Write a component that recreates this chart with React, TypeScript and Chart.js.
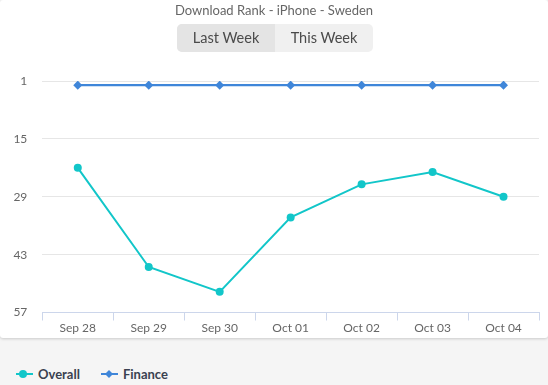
import React, { useEffect, useRef } from 'react';
import { Chart, registerables } from 'chart.js';

Chart.register(...registerables);

const chartTitle = 'Download Rank - iPhone - Sweden';
const periodButtons = ['Last Week', 'This Week'];
const categories = ['Sep 28', 'Sep 29', 'Sep 30', 'Oct 01', 'Oct 02', 'Oct 03', 'Oct 04'];
const overallRanks = [22, 46, 52, 34, 26, 23, 29];
const financeRanks = [2, 2, 2, 2, 2, 2, 2];
const yTicks = [1, 15, 29, 43, 57];
const seriesNames = ['Overall', 'Finance'];
const seriesColors = ['#12c6c9', '#3f86d9'];
const seriesPointStyles = ['circle', 'rectRot'];

const FONT = 'Lato, "Open Sans", sans-serif';

function LegendMarker({ color, style }: { color: string; style: string }) {
  return (
    <svg width={17} height={8} style={{ display: 'block' }}>
      <line x1={0} y1={4} x2={17} y2={4} stroke={color} strokeWidth={2} />
      {style === 'circle' ? (
        <circle cx={7} cy={4} r={4} fill={color} />
      ) : (
        <polygon points="8,0 12,4 8,8 4,4" fill={color} />
      )}
    </svg>
  );
}

export default function App() {
  const canvasRef = useRef<HTMLCanvasElement | null>(null);

  useEffect(() => {
    if (!canvasRef.current) return;
    const chart = new Chart(canvasRef.current, {
      type: 'line',
      data: {
        labels: categories,
        datasets: [
          {
            label: seriesNames[0],
            data: overallRanks,
            borderColor: seriesColors[0],
            backgroundColor: seriesColors[0],
            borderWidth: 2,
            pointStyle: seriesPointStyles[0] as any,
            pointRadius: 4,
            pointBorderWidth: 0,
            tension: 0,
          },
          {
            label: seriesNames[1],
            data: financeRanks,
            borderColor: seriesColors[1],
            backgroundColor: seriesColors[1],
            borderWidth: 2.3,
            pointStyle: seriesPointStyles[1] as any,
            pointRadius: 4.5,
            pointBorderWidth: 0,
            tension: 0,
          },
        ],
      },
      options: {
        responsive: false,
        animation: false,
        layout: { padding: { top: 81, left: 0, right: 9, bottom: 0 } },
        plugins: {
          legend: { display: false },
          title: { display: false },
          tooltip: { enabled: false },
        },
        scales: {
          x: {
            type: 'category',
            offset: true,
            grid: {
              offset: true,
              drawOnChartArea: false,
              drawTicks: true,
              tickLength: 8,
              color: '#ccd6eb',
              lineWidth: 1,
            },
            border: { display: true, color: '#ccd6eb', width: 1 },
            ticks: {
              padding: 0,
              color: '#666666',
              font: { family: FONT, size: 12 },
              maxRotation: 0,
              autoSkip: false,
            },
            afterFit: (scale: any) => {
              scale.height = 25.5;
            },
          },
          y: {
            type: 'linear',
            reverse: true,
            min: 1,
            max: 57,
            afterBuildTicks: (scale: any) => {
              scale.ticks = yTicks.map((v) => ({ value: v }));
            },
            afterFit: (scale: any) => {
              scale.width = 42.3;
            },
            grid: {
              drawTicks: false,
              color: (ctx: any) => (ctx.tick && ctx.tick.value === 57 ? 'rgba(0,0,0,0)' : '#e6e6e6'),
              lineWidth: 1,
            },
            border: { display: false },
            ticks: {
              padding: 15,
              color: '#666666',
              font: { family: FONT, size: 12 },
            },
          },
        },
      },
    });
    return () => chart.destroy();
  }, []);

  return (
    <div
      style={{
        position: 'absolute',
        left: 0,
        top: 0,
        width: 548,
        height: 385,
        background: '#f5f5f5',
        overflow: 'hidden',
        fontFamily: FONT,
      }}
    >
      <div
        style={{
          position: 'absolute',
          left: 0,
          top: 0,
          width: 548,
          height: 338,
          background: '#ffffff',
          borderRadius: 3,
          boxShadow: '0 1px 3px rgba(0,0,0,0.18)',
        }}
      >
        <canvas
          ref={canvasRef}
          width={548}
          height={338}
          style={{ position: 'absolute', left: 0, top: 0, width: 548, height: 338 }}
        />
        <div
          style={{
            position: 'absolute',
            left: 0,
            top: 2,
            width: 548,
            textAlign: 'center',
            fontSize: 13,
            color: '#666666',
            lineHeight: '16px',
          }}
        >
          {chartTitle}
        </div>
        <div
          style={{
            position: 'absolute',
            left: 177,
            top: 24,
            width: 196,
            height: 28,
            borderRadius: 5,
            background: '#f0f0f0',
            display: 'flex',
            overflow: 'hidden',
          }}
        >
          {periodButtons.map((b, i) => (
            <div
              key={b}
              style={{
                width: i === 0 ? 98 : 98,
                height: 28,
                lineHeight: '28px',
                textAlign: 'center',
                fontSize: 14.5,
                color: '#4a4a4a',
                background: i === 0 ? '#e4e4e4' : 'transparent',
              }}
            >
              {b}
            </div>
          ))}
        </div>
      </div>
      <div
        style={{
          position: 'absolute',
          left: 16,
          top: 366,
          height: 16,
          display: 'flex',
          alignItems: 'center',
        }}
      >
        {seriesNames.map((name, i) => (
          <div key={name} style={{ display: 'flex', alignItems: 'center', marginRight: i === 0 ? 21 : 0 }}>
            <LegendMarker color={seriesColors[i]} style={seriesPointStyles[i]} />
            <span
              style={{
                marginLeft: 5,
                fontSize: 13,
                fontWeight: 700,
                color: '#3a4150',
              }}
            >
              {name}
            </span>
          </div>
        ))}
      </div>
    </div>
  );
}
